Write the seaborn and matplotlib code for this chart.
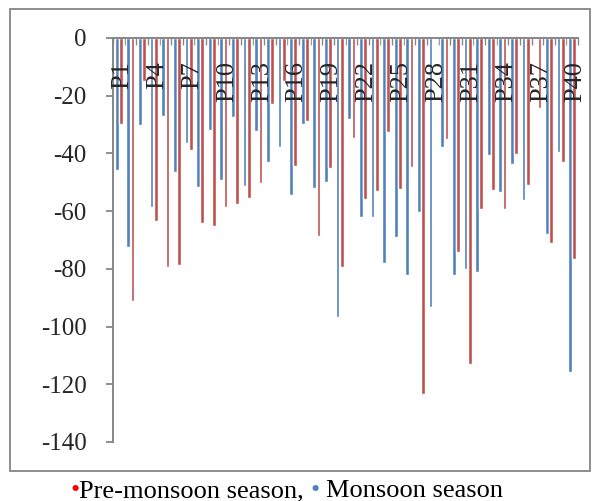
import matplotlib
matplotlib.use("Agg")
import matplotlib.pyplot as plt
import matplotlib.transforms as mtransforms
from matplotlib.patches import Rectangle
import pandas as pd
import seaborn as sns

# Sampling sites and seasonal values
sites = [f"P{i}" for i in range(1, 41)]
monsoon = [-45.7, -72.3, -30.2, -58.4, -26.9, -46.5, -36.3, -51.7, -31.9, -49.1,
           -27.4, -51.4, -32.1, -43.1, -37.6, -54.5, -29.8, -52.0, -49.8, -96.8,
           -28.0, -62.1, -62.2, -77.8, -69.0, -82.1, -60.3, -93.1, -37.7, -82.1,
           -80.1, -81.2, -40.7, -53.5, -43.8, -56.3, 0.0, -68.0, -39.4, -115.8]
pre_monsoon = [-29.7, -91.1, -14.8, -63.4, -79.4, -78.5, -38.7, -64.0, -65.3, -58.7,
               -57.6, -55.6, -50.3, -22.7, -14.8, -44.2, -28.6, -68.6, -45.2, -79.5,
               -34.6, -55.7, -53.1, -32.7, -52.4, -44.7, -123.5, 0.0, -34.9, -74.3,
               -112.9, -59.2, -52.7, -59.1, -40.2, -51.0, -24.3, -71.2, -43.0, -76.5]
season_names = ["Monsoon season", "Pre-monsoon season"]
y_ticks = [0, -20, -40, -60, -80, -100, -120, -140]
label_every = 3

BLUE = "#4F81BD"
RED = "#C0504D"
AXIS_GREY = "#868686"

sns.set_style("white")
plt.rcParams["font.family"] = ["Liberation Serif", "DejaVu Serif"]
plt.rcParams["axes.unicode_minus"] = False

df = pd.DataFrame({
    "site": sites * 2,
    "value": monsoon + pre_monsoon,
    "season": [season_names[0]] * len(sites) + [season_names[1]] * len(sites),
})

W, H = 595, 501
fig = plt.figure(figsize=(W / 100, H / 100), dpi=100)
ax = fig.add_axes([113 / W, 1 - 442 / H, 465 / W, 404 / H])

sns.barplot(data=df, x="site", y="value", hue="season", hue_order=season_names,
            palette=[BLUE, RED], saturation=1, width=0.74, gap=0.12,
            legend=False, ax=ax, zorder=2)

ax.set_xlim(-0.5, len(sites) - 0.5)
ax.set_ylim(-140, 0)
ax.set_yticks(y_ticks)
ax.set_yticklabels([str(v) for v in y_ticks], fontsize=18)
ax.set_xlabel("")
ax.set_ylabel("")

# category axis sits at zero (top), tick marks between categories
ax.xaxis.tick_top()
ax.set_xticks([i - 0.5 for i in range(len(sites) + 1)])
ax.set_xticklabels([])
ax.tick_params(axis="x", direction="in", length=5, width=1.0, color=AXIS_GREY)
ax.tick_params(axis="y", direction="out", length=5, width=1.3, color=AXIS_GREY,
               pad=14, left=True)

for side in ("right", "bottom"):
    ax.spines[side].set_visible(False)
for side in ("left", "top"):
    ax.spines[side].set_color(AXIS_GREY)
    ax.spines[side].set_linewidth(1.4)
ax.grid(False)

# rotated site names hanging below the zero line
offset = mtransforms.ScaledTranslation(3.5 / 100, -23 / 100, fig.dpi_scale_trans)
for i in range(0, len(sites), label_every):
    ax.text(i, 0, sites[i], rotation=90, ha="center", va="top", fontsize=19,
            transform=ax.transData + offset, zorder=5)

# outer chart frame
fig.patches.append(Rectangle((10 / W, 1 - 471 / H), 580 / W, 462 / H,
                             transform=fig.transFigure, fill=False,
                             edgecolor=AXIS_GREY, linewidth=1.3))

# caption line with coloured bullets
fig.canvas.draw()
renderer = fig.canvas.get_renderer()


def width_px(s, size=19):
    t = fig.text(0, 0, s, fontsize=size)
    w = t.get_window_extent(renderer).width
    t.remove()
    return w


space = width_px("a a") - width_px("aa")
x = 70.0
base_y = 1 - 497 / H
pieces = [("•", "#FF0000"), ("Pre-monsoon season,", "black"), (None, None),
          ("•", BLUE), (None, None), ("Monsoon season", "black")]
for s, c in pieces:
    if s is None:
        x += space
        continue
    fig.text(x / W, base_y, s, color=c, fontsize=19, va="baseline", ha="left")
    x += width_px(s)

fig.savefig("out.png", dpi=100)
